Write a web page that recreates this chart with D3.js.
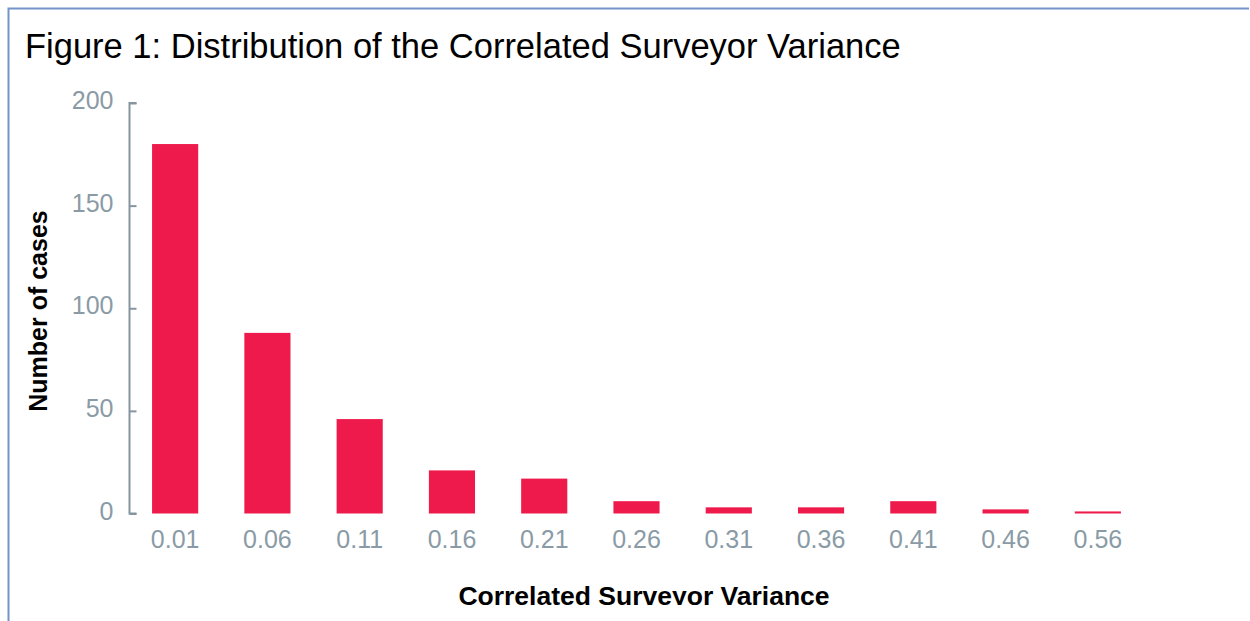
<!DOCTYPE html>
<html>
<head>
<meta charset="utf-8">
<script src="https://cdn.jsdelivr.net/npm/d3@7"></script>
<style>
  html, body { margin: 0; padding: 0; background: #fff; }
  svg { display: block; }
  text { font-family: "Liberation Sans", Arial, Helvetica, sans-serif; }
</style>
</head>
<body>
<svg id="chart" width="1250" height="621"></svg>
<script>
const categories = ["0.01","0.06","0.11","0.16","0.21","0.26","0.31","0.36","0.41","0.46","0.56"];
const counts = [180, 88, 46, 21, 17, 6, 3, 3, 6, 2, 1];
const yTicks = [0, 50, 100, 150, 200];
const titleText = "Figure 1: Distribution of the Correlated Surveyor Variance";
const yTitle = "Number of cases";
const xTitle = "Correlated Surveyor Variance";

const svg = d3.select("#chart");
const W = 1250, H = 621;

svg.append("defs").append("clipPath").attr("id", "cutBottom")
  .append("rect").attr("x", 0).attr("y", 0).attr("width", W).attr("height", 605);

// frame (right & bottom edges outside the view)
svg.append("path")
  .attr("d", `M8.5,${H + 5} L8.5,8.5 L${W - 1},8.5`)
  .attr("fill", "none")
  .attr("stroke", "#7393c9")
  .attr("stroke-width", 2);

svg.append("text")
  .attr("x", 25).attr("y", 58)
  .attr("font-size", 34.5)
  .attr("fill", "#000")
  .text(titleText);

const x = d3.scaleBand().domain(categories).range([129, 1144])
  .paddingInner(0.5).paddingOuter(0.25);
const y = d3.scaleLinear().domain([0, 200]).range([513.5, 103]);

const axisColor = "#8595a0";
const labelColor = "#8a9ba6";

// y axis
const yAxis = d3.axisRight(y).tickValues(yTicks).tickSize(7).tickFormat(d3.format("d"));
const gy = svg.append("g").attr("transform", "translate(129.5,0)").call(yAxis);
gy.select(".domain").attr("stroke", axisColor).attr("stroke-width", 2)
  .attr("d", `M7,${y(200)}H0V${y(0)}H7`);
gy.selectAll(".tick line").attr("stroke", axisColor).attr("stroke-width", 2);
gy.selectAll(".tick text")
  .attr("x", -16).attr("dy", "0.22em").attr("text-anchor", "end")
  .attr("font-size", 25).attr("fill", labelColor)
  .attr("font-family", "'Liberation Sans', Arial, sans-serif");

// bars
svg.append("g").selectAll("rect").data(counts).join("rect")
  .attr("x", (d, i) => x(categories[i]))
  .attr("width", x.bandwidth())
  .attr("y", d => y(d))
  .attr("height", d => y(0) - y(d))
  .attr("fill", "#ee1a4b");

// x labels
const xAxis = d3.axisBottom(x).tickSize(0).tickPadding(0);
const gx = svg.append("g").attr("transform", "translate(0,548)").call(xAxis);
gx.select(".domain").remove();
gx.selectAll(".tick text")
  .attr("y", 0).attr("dy", 0)
  .attr("font-size", 25).attr("fill", labelColor)
  .attr("font-family", "'Liberation Sans', Arial, sans-serif");

// axis titles
svg.append("text")
  .attr("transform", `translate(47,311) rotate(-90)`)
  .attr("text-anchor", "middle")
  .attr("font-size", 25).attr("font-weight", "bold").attr("fill", "#000")
  .text(yTitle);

svg.append("text")
  .attr("x", 644).attr("y", 605)
  .attr("clip-path", "url(#cutBottom)")
  .attr("text-anchor", "middle")
  .attr("font-size", 26.5).attr("font-weight", "bold").attr("fill", "#000")
  .text(xTitle);
</script>
</body>
</html>
